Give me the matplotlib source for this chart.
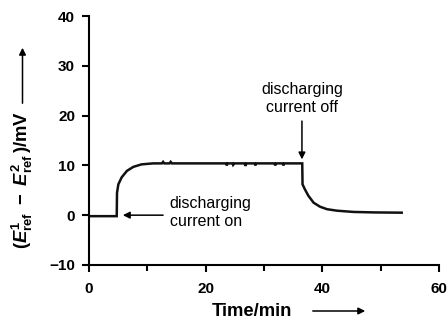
import matplotlib
matplotlib.use("Agg")
import matplotlib.pyplot as plt

# values
time_min = [0, 2, 4.0, 4.75, 4.8, 5.03, 5.6, 6.5, 7.6, 9.0, 11.0, 12.5, 12.7, 12.9,
            13.8, 14.0, 14.2, 20, 23.5, 23.6, 23.8, 24.6, 24.7, 24.9, 26.7, 26.8,
            27.0, 28.4, 28.5, 28.7, 31.8, 31.9, 32.1, 33.2, 33.3, 33.5, 36.55,
            36.6, 37.0, 37.6, 38.5, 39.6, 40.8, 42.5, 45.3, 49, 53.6]
potential_mv = [-0.2, -0.2, -0.2, -0.2, 4.5, 6.2, 7.6, 8.9, 9.7, 10.2, 10.4, 10.4, 10.7, 10.4,
                10.4, 10.7, 10.4, 10.4, 10.4, 10.0, 10.4, 10.4, 10.1, 10.4, 10.4, 9.9,
                10.4, 10.4, 10.0, 10.4, 10.4, 10.0, 10.4, 10.4, 10.0, 10.4, 10.4,
                6.2, 5.2, 3.9, 2.5, 1.7, 1.2, 0.9, 0.65, 0.55, 0.5]

x_ticks = [0, 20, 40, 60]
x_minor = [10, 30, 50]
y_ticks = [-10, 0, 10, 20, 30, 40]

plt.rcParams['font.family'] = ['Liberation Sans', 'DejaVu Sans']
plt.rcParams['mathtext.fontset'] = 'custom'
plt.rcParams['mathtext.rm'] = 'Liberation Sans:bold'
plt.rcParams['mathtext.it'] = 'Liberation Sans:bold:italic'
plt.rcParams['mathtext.bf'] = 'Liberation Sans:bold'

fig = plt.figure(figsize=(4.48, 3.20), dpi=100)
ax = fig.add_axes([0.1987, 0.172, 0.7813, 0.778])

ax.plot(time_min, potential_mv, color='#111111', lw=1.8, solid_joinstyle='miter')

ax.set_xlim(0, 60)
ax.set_ylim(-10, 40)
ax.set_xticks(x_ticks)
ax.set_xticks(x_minor, minor=True)
ax.set_yticks(y_ticks)
ax.tick_params(which='major', direction='out', length=5, width=1.5,
               labelsize=11, pad=5)
ax.tick_params(axis='x', which='major', pad=7)
ax.tick_params(which='minor', direction='out', length=4, width=1.5)
for lab in ax.get_xticklabels() + ax.get_yticklabels():
    lab.set_fontweight('bold')

for side in ['top', 'right']:
    ax.spines[side].set_visible(False)
for side in ['left', 'bottom']:
    ax.spines[side].set_linewidth(1.5)

# annotations
arrow = dict(arrowstyle='-|>', color='black', lw=1.1, mutation_scale=10,
             shrinkA=0, shrinkB=0)
ax.annotate('', xy=(5.8, 0), xytext=(12.7, 0), arrowprops=arrow)
ax.text(13.8, 0.5, 'discharging\ncurrent on', fontsize=11.5, va='center',
        ha='left', linespacing=1.2)
ax.annotate('', xy=(36.5, 11.2), xytext=(36.5, 18.9), arrowprops=arrow)
ax.text(36.5, 23.4, 'discharging\ncurrent off', fontsize=11.5, va='center',
        ha='center', linespacing=1.2)

# axis labels with arrows
fig.text(252 / 448, 1 - 311 / 320, 'Time/min', fontsize=13.3, fontweight='bold',
         ha='center', va='center')
fig.add_artist(matplotlib.patches.FancyArrowPatch(
    (310 / 448, 1 - 311 / 320), (368 / 448, 1 - 311 / 320),
    transform=fig.transFigure, arrowstyle='-|>', mutation_scale=10,
    lw=1.1, color='black'))
fig.text(22 / 448, 1 - 180 / 320,
         r'$(E^{1}_{\mathrm{ref}}\ -\ E^{2}_{\mathrm{ref}}\,)$/mV',
         fontsize=13.3, fontweight='bold', rotation=90, ha='center', va='center')
fig.add_artist(matplotlib.patches.FancyArrowPatch(
    (22.5 / 448, 1 - 106 / 320), (22.5 / 448, 1 - 45 / 320),
    transform=fig.transFigure, arrowstyle='-|>', mutation_scale=10,
    lw=1.1, color='black'))

fig.savefig('out.png', dpi=100)
